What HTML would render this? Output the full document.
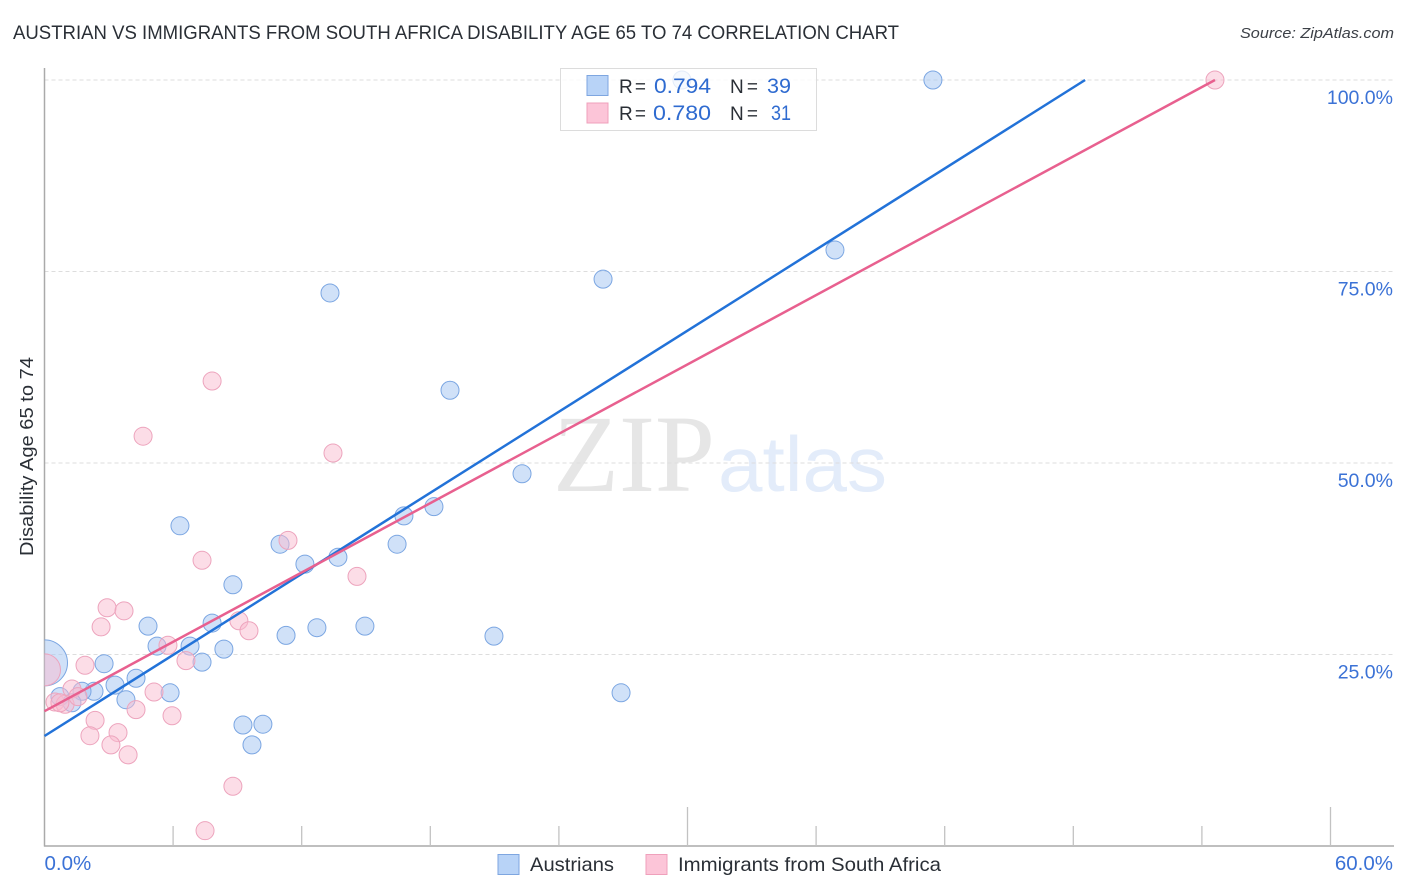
<!DOCTYPE html>
<html lang="en">
<head>
<meta charset="utf-8">
<title>Austrian vs Immigrants from South Africa Disability Age 65 to 74 Correlation Chart</title>
<style>
html,body{margin:0;padding:0;background:#fff;}
body{width:1406px;height:892px;overflow:hidden;font-family:"Liberation Sans",sans-serif;}
svg{display:block;}
text{font-family:"Liberation Sans",sans-serif;}
</style>
</head>
<body>
<svg id="chart" xmlns="http://www.w3.org/2000/svg" width="1406" height="892" viewBox="0 0 1406 892">
  <defs>
    <clipPath id="plot-clip"><rect x="44.5" y="60" width="1350" height="786"/></clipPath>
  </defs>
  <text x="13" y="39" font-size="19" fill="#2a2f36" textLength="886" lengthAdjust="spacingAndGlyphs">AUSTRIAN VS IMMIGRANTS FROM SOUTH AFRICA DISABILITY AGE 65 TO 74 CORRELATION CHART</text>
  <text x="1394" y="38" font-size="15" font-style="italic" fill="#3c4047" text-anchor="end" textLength="154" lengthAdjust="spacingAndGlyphs">Source: ZipAtlas.com</text>
  <g id="watermark">
    <text x="553" y="491" font-size="110" fill="#e6e6e6" style="font-family:'Liberation Serif',serif" textLength="162" lengthAdjust="spacingAndGlyphs">ZIP</text>
    <text x="718" y="491" font-size="78" fill="#e3ecfa" textLength="169" lengthAdjust="spacingAndGlyphs">atlas</text>
  </g>
  <g id="grid"></g>
  <g id="axes"></g>
  <g id="points-blue" clip-path="url(#plot-clip)"></g>
  <g id="points-pink" clip-path="url(#plot-clip)"></g>
  <g id="lines"></g>
  <g id="tick-labels"></g>
  <text transform="translate(33,556) rotate(-90)" font-size="18.5" fill="#2a2f36" textLength="199" lengthAdjust="spacingAndGlyphs">Disability Age 65 to 74</text>

  <g>
    <rect x="560.5" y="68.5" width="256" height="62" fill="#fff" fill-opacity="0.78" stroke="#dcdcdc"/>
    <rect x="587" y="75.5" width="21" height="20" fill="#b8d3f7" stroke="#7ea6e0"/>
    <rect x="587" y="103" width="21" height="20" fill="#fcc5d8" stroke="#efa0bb"/>
    <text x="619" y="93" font-size="19" fill="#2a2f36" textLength="27" lengthAdjust="spacing">R =</text>
    <text x="654" y="93" font-size="21" fill="#2f6bd0" textLength="57" lengthAdjust="spacingAndGlyphs">0.794</text>
    <text x="730" y="93" font-size="19" fill="#2a2f36" textLength="28" lengthAdjust="spacing">N =</text>
    <text x="767" y="93" font-size="21" fill="#2f6bd0" textLength="24" lengthAdjust="spacingAndGlyphs">39</text>
    <text x="619" y="120" font-size="19" fill="#2a2f36" textLength="27" lengthAdjust="spacing">R =</text>
    <text x="653" y="120" font-size="21" fill="#2f6bd0" textLength="58" lengthAdjust="spacingAndGlyphs">0.780</text>
    <text x="730" y="120" font-size="19" fill="#2a2f36" textLength="28" lengthAdjust="spacing">N =</text>
    <text x="771" y="120" font-size="21" fill="#2f6bd0" textLength="20" lengthAdjust="spacingAndGlyphs">31</text>
  </g>

  <g>
    <rect x="498" y="854.5" width="21" height="20" fill="#b8d3f7" stroke="#7ea6e0"/>
    <text x="530" y="871" font-size="19.5" fill="#2a2f36" textLength="84" lengthAdjust="spacingAndGlyphs">Austrians</text>
    <rect x="646" y="854.5" width="21" height="20" fill="#fcc5d8" stroke="#efa0bb"/>
    <text x="678" y="871" font-size="19.5" fill="#2a2f36" textLength="263" lengthAdjust="spacingAndGlyphs">Immigrants from South Africa</text>
  </g>
</svg>
<script>
const yTickValues = [25, 50, 75, 100];
const yTickLabels = ["25.0%", "50.0%", "75.0%", "100.0%"];
const xTickValues = [6, 12, 18, 24, 30, 36, 42, 48, 54, 60];
const xMajorTicks = [30, 60];
const xEndValues = [0, 60];
const xEndLabels = ["0.0%", "60.0%"];

const austriansX = [41.45, 29.74, 36.88, 26.06, 13.32, 18.92, 22.28, 6.32, 18.17, 16.77, 16.45, 10.99, 12.15, 13.69, 8.79, 4.83, 7.82, 12.71, 14.95, 11.27, 20.97, 5.25, 6.79, 8.37, 7.35, 2.78, 4.27, 3.29, 2.31, 1.75, 5.86, 3.80, 26.90, 0.72, 1.28, 9.26, 10.19, 9.68, 0];
const austriansY = [100, 100, 77.8, 74.0, 72.2, 59.5, 48.6, 41.8, 44.3, 43.1, 39.4, 39.4, 36.8, 37.7, 34.1, 28.7, 29.1, 28.5, 28.7, 27.5, 27.4, 26.1, 26.1, 25.7, 24.0, 23.8, 21.9, 21.0, 20.2, 20.2, 20.0, 19.1, 20.0, 19.5, 18.7, 15.8, 15.9, 13.2, 23.9];
const austriansSize = [9, 9, 9, 9, 9, 9, 9, 9, 9, 9, 9, 9, 9, 9, 9, 9, 9, 9, 9, 9, 9, 9, 9, 9, 9, 9, 9, 9, 9, 9, 9, 9, 9, 9, 9, 9, 9, 9, 23];

const immigrantsX = [54.61, 7.82, 4.60, 13.46, 11.36, 7.35, 14.58, 2.92, 3.71, 2.64, 9.07, 9.54, 5.76, 6.60, 1.89, 0, 1.28, 0.49, 0.96, 1.56, 5.11, 4.27, 2.36, 5.95, 2.12, 3.43, 3.10, 3.90, 8.79, 7.49, 0.72];
const immigrantsY = [100, 60.7, 53.5, 51.3, 39.9, 37.3, 35.2, 31.1, 30.7, 28.6, 29.4, 28.1, 26.2, 24.2, 23.6, 23.0, 20.5, 18.8, 18.5, 19.5, 20.1, 17.8, 16.4, 17.0, 14.4, 14.8, 13.2, 11.9, 7.8, 2.0, 18.7];
const immigrantsSize = [9, 9, 9, 9, 9, 9, 9, 9, 9, 9, 9, 9, 9, 9, 9, 16, 9, 9, 9, 9, 9, 9, 9, 9, 9, 9, 9, 9, 9, 9, 9];

const austriansTrendX = [0, 48.55];
const austriansTrendY = [14.36, 100];
const immigrantsTrendX = [0, 54.61];
const immigrantsTrendY = [17.6, 100];

const NS = "http://www.w3.org/2000/svg";
function xScale(v) { return 44.5 + v * (1330.5 - 44.5) / 60; }
function yScale(v) { return 846 - v * 7.66; }

function make(tag, parentId, attrs) {
  const el = document.createElementNS(NS, tag);
  for (const k in attrs) el.setAttribute(k, attrs[k]);
  document.getElementById(parentId).appendChild(el);
  return el;
}

yTickValues.forEach(function (v, i) {
  const gl = make("line", "grid", { x1: 44.5, x2: 1393, y1: yScale(v), y2: yScale(v), stroke: "#dddddd", "stroke-width": 1, "stroke-dasharray": "4 3" });
  
  
  const t = make("text", "tick-labels", { x: 1393, y: yScale(v) + 24, "text-anchor": "end", "font-size": 19.5, fill: "#3b72d6" });
  
  
  t.textContent = yTickLabels[i];
});

const leftAxis = make("line", "axes", { x1: 44.5, x2: 44.5, y1: 68, y2: 846.5, stroke: "#aaaaaa", "stroke-width": 1.5 });


const bottomAxis = make("line", "axes", { x1: 44, x2: 1394, y1: 846, y2: 846, stroke: "#aaaaaa", "stroke-width": 1.5 });



xTickValues.forEach(function (v) {
  const major = xMajorTicks.indexOf(v) >= 0;
  const tk = make("line", "axes", { x1: xScale(v), x2: xScale(v), y1: major ? 807 : 826, y2: 846, stroke: "#c2c2c2", "stroke-width": 1.3 });
  
  
});

xEndValues.forEach(function (v, i) {
  const t = make("text", "tick-labels", { x: i === 0 ? xScale(v) : 1393, y: 870, "text-anchor": i === 0 ? "start" : "end", "font-size": 20.5, fill: "#3b72d6" });
  
  
  t.textContent = xEndLabels[i];
});

austriansX.forEach(function (v, i) {
  const c = make("circle", "points-blue", { cx: xScale(v), cy: yScale(austriansY[i]), r: austriansSize[i], fill: "#a9c9f2", "fill-opacity": 0.55, stroke: "#7ba6e2", "stroke-width": 1 });
  
  
});

immigrantsX.forEach(function (v, i) {
  const c = make("circle", "points-pink", { cx: xScale(v), cy: yScale(immigrantsY[i]), r: immigrantsSize[i], fill: "#f9bcd0", "fill-opacity": 0.5, stroke: "#eda4bd", "stroke-width": 1 });
  
  
});

const blueLine = make("line", "lines", { x1: xScale(austriansTrendX[0]), y1: yScale(austriansTrendY[0]), x2: xScale(austriansTrendX[1]), y2: yScale(austriansTrendY[1]), stroke: "#2272d8", "stroke-width": 2.5 });


const pinkLine = make("line", "lines", { x1: xScale(immigrantsTrendX[0]), y1: yScale(immigrantsTrendY[0]), x2: xScale(immigrantsTrendX[1]), y2: yScale(immigrantsTrendY[1]), stroke: "#e8608f", "stroke-width": 2.5 });


</script>
</body>
</html>
